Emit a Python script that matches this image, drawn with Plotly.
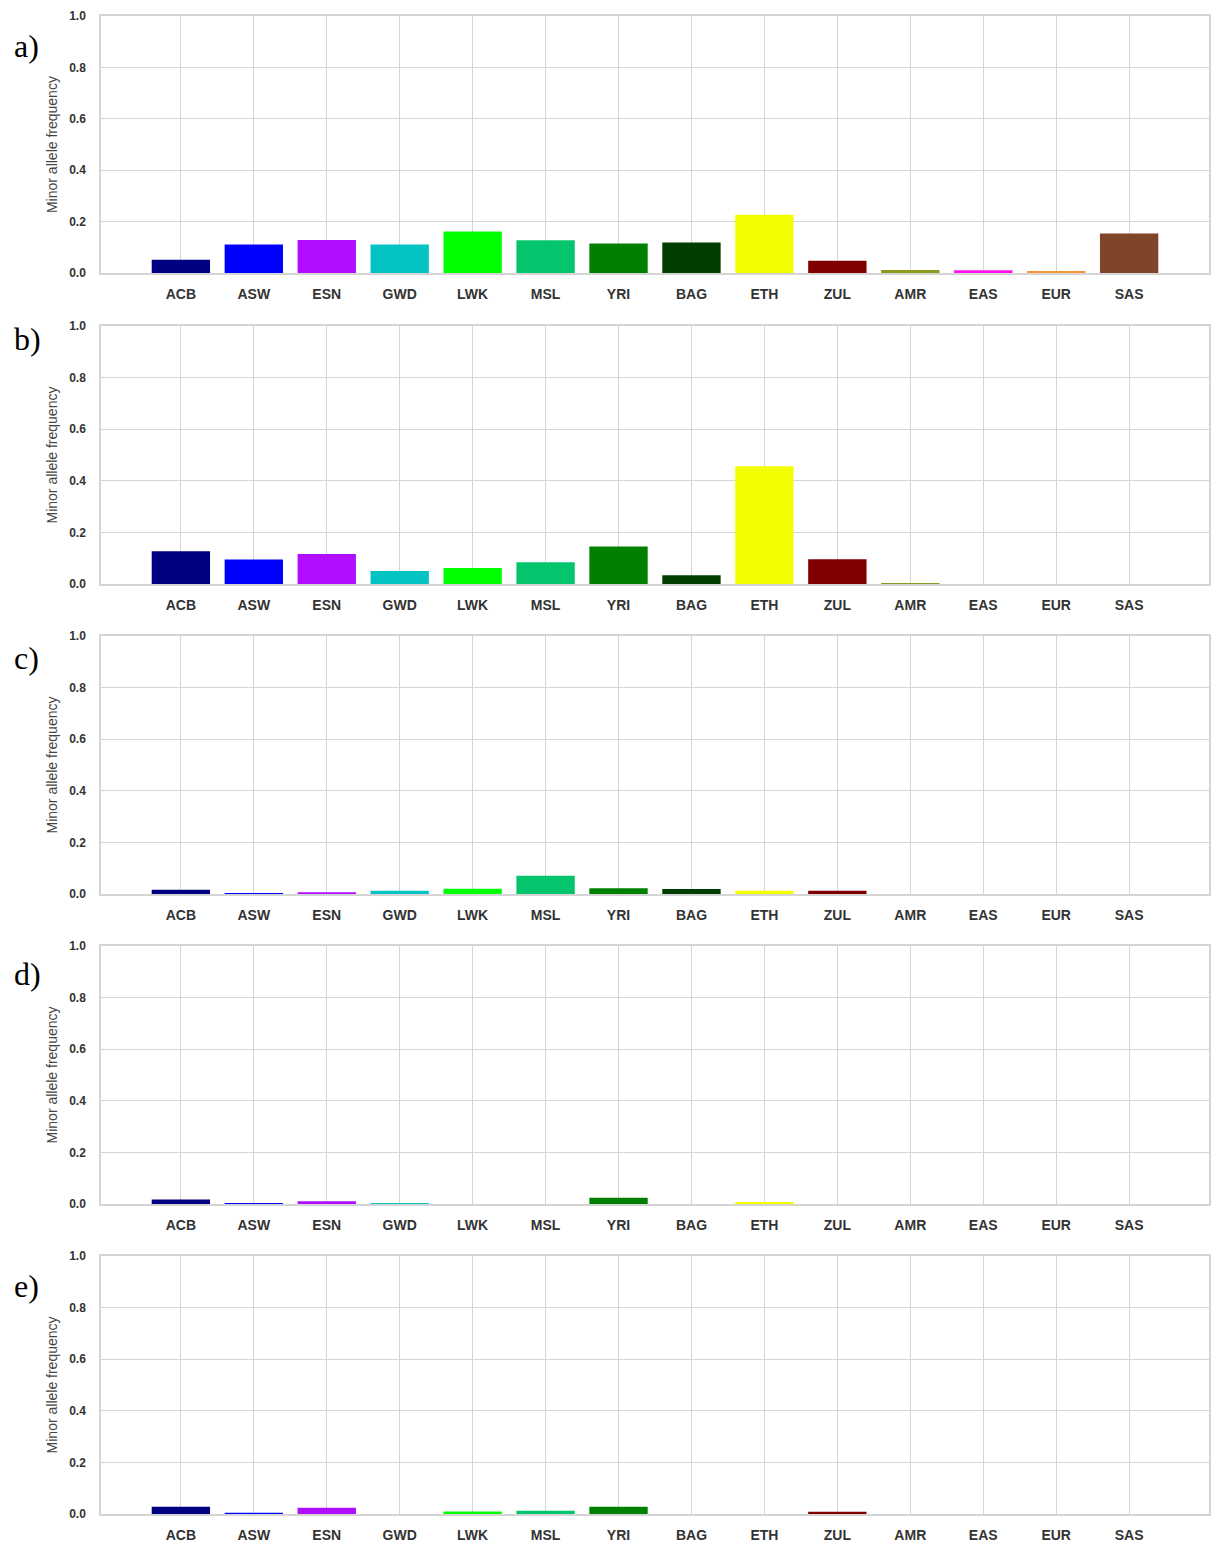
import plotly.graph_objects as go

populations = ["ACB", "ASW", "ESN", "GWD", "LWK", "MSL", "YRI", "BAG", "ETH", "ZUL", "AMR", "EAS", "EUR", "SAS"]
bar_colors = ["#000080", "#0000FF", "#B00FFF", "#05C3C3", "#00FF00", "#05C46E", "#008000",
              "#013F00", "#F2FF00", "#800000", "#8E9A1E", "#FF14F0", "#F5923A", "#7F452B"]

maf_a = [0.052, 0.111, 0.129, 0.111, 0.162, 0.128, 0.115, 0.119, 0.227, 0.048, 0.012, 0.011, 0.008, 0.154]
maf_b = [0.127, 0.095, 0.117, 0.051, 0.062, 0.085, 0.146, 0.034, 0.457, 0.096, 0.002, 0.0, 0.0, 0.0]
maf_c = [0.017, 0.001, 0.007, 0.013, 0.021, 0.071, 0.023, 0.020, 0.013, 0.013, 0.0, 0.0, 0.0, 0.0]
maf_d = [0.018, 0.002, 0.011, 0.001, 0.0, 0.0, 0.024, 0.0, 0.008, 0.0, 0.0, 0.0, 0.0, 0.0]
maf_e = [0.028, 0.002, 0.024, 0.0, 0.010, 0.013, 0.028, 0.0, 0.0, 0.009, 0.0, 0.0, 0.0, 0.0]

panel_labels = ["a)", "b)", "c)", "d)", "e)"]
panels = [maf_a, maf_b, maf_c, maf_d, maf_e]

W, H = 1212, 1544
ml, mt = 101, 16
plot_w = 1110
mr = W - ml - plot_w
mb = H - 1519
plot_h = H - mt - mb
tops_px = [16, 327, 638, 949, 1260]
bots_px = [274, 586, 897, 1208, 1519]
label_y_px = [46, 340, 660, 977, 1290]

def py(ypx):
    return (H - mb - ypx) / plot_h

fig = go.Figure()
layout = dict(
    width=W, height=H,
    margin=dict(l=ml, r=mr, t=mt, b=mb),
    paper_bgcolor="white", plot_bgcolor="white",
    showlegend=False,
    font=dict(family="Liberation Sans, Arial, sans-serif", color="#333333"),
    annotations=[],
)

grid_col = "#d5d5d5"
for i, vals in enumerate(panels):
    n = i + 1
    xa = "x" if n == 1 else f"x{n}"
    ya = "y" if n == 1 else f"y{n}"
    fig.add_trace(go.Bar(
        x=populations, y=vals, marker=dict(color=bar_colors, line=dict(width=0)),
        width=0.8, xaxis=xa, yaxis=ya,
    ))
    xkey = "xaxis" if n == 1 else f"xaxis{n}"
    ykey = "yaxis" if n == 1 else f"yaxis{n}"
    layout[xkey] = dict(
        domain=[0, 1], anchor=ya, type="category",
        categoryorder="array", categoryarray=populations,
        range=[-1.095, 14.095],
        showgrid=True, gridcolor=grid_col, gridwidth=1.2,
        showline=True, linecolor=grid_col, linewidth=1.5, mirror=True,
        ticks="", ticklabelstandoff=7,
        tickfont=dict(size=14, color="#333333", family="Liberation Sans, Arial, sans-serif", weight="bold"),
    )
    layout[ykey] = dict(
        domain=[py(bots_px[i]), py(tops_px[i])], anchor=xa,
        range=[0, 1], tickvals=[0, 0.2, 0.4, 0.6, 0.8, 1.0],
        ticktext=["0.0", "0.2", "0.4", "0.6", "0.8", "1.0"],
        showgrid=True, gridcolor=grid_col, gridwidth=1.2, zeroline=False,
        showline=True, linecolor=grid_col, linewidth=1.5, mirror=True,
        ticks="", ticklabelstandoff=11,
        tickfont=dict(size=12, color="#333333", family="Liberation Sans, Arial, sans-serif", weight="bold"),
        title=dict(text="Minor allele frequency", standoff=8,
                   font=dict(size=14, color="#444444", family="Liberation Sans, Arial, sans-serif")),
    )
    layout["annotations"].append(dict(
        text=panel_labels[i], xref="paper", yref="paper",
        x=(12 - ml) / plot_w, y=py(label_y_px[i]),
        xanchor="left", yanchor="middle", showarrow=False,
        font=dict(family="Liberation Serif, Times New Roman, serif", size=32, color="#000000"),
    ))

fig.update_layout(**layout)
fig.write_html(
    "out.html",
    config={"displayModeBar": False},
    post_script="document.body.style.margin='0';document.body.style.overflow='hidden';document.documentElement.style.overflow='hidden';",
)
